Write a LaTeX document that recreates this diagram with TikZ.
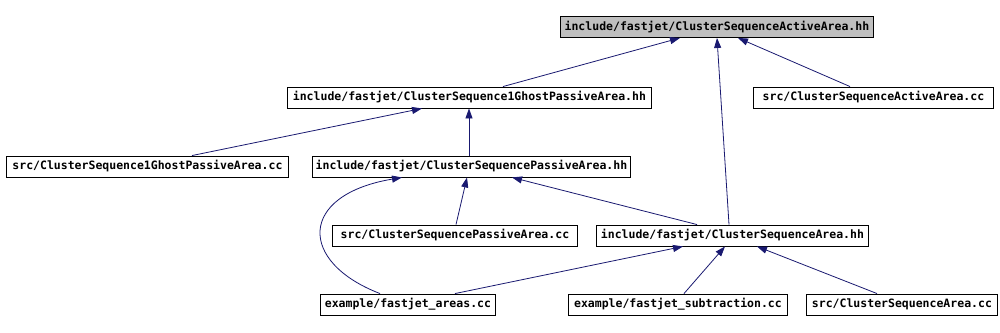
\documentclass[tikz,border=0pt]{standalone}
\usepackage{fontspec}
\setmonofont{DejaVu Sans Mono}
\usetikzlibrary{arrows.meta}
\definecolor{edgeblue}{RGB}{25,25,112}
\definecolor{rootgrey}{RGB}{191,191,191}

\begin{document}
\begin{tikzpicture}[
    x=1pt, y=-1pt,
    box/.style={
        draw=black,
        line width=0.9pt,
        fill=white,
        anchor=west,
        minimum height=21pt,
        inner xsep=0pt,
        inner ysep=0pt,
        font=\ttfamily\bfseries\fontsize{11.5pt}{12pt}\selectfont
    },
    dep/.style={
        -{Triangle[length=10pt,width=7pt]},
        draw=edgeblue,
        line width=0.8pt
    }
]
\useasboundingbox (0,0) rectangle (1000,332);

% ============================================================
% Headers
% ============================================================

\node[box, fill=rootgrey, minimum width=313pt] (active) at (560,27)
{include/fastjet/ClusterSequenceActiveArea.hh};

\node[box, minimum width=364pt] (ghost) at (287,97.5)
{include/fastjet/ClusterSequence1GhostPassiveArea.hh};

\node[box, minimum width=318pt] (passive) at (312,166.5)
{include/fastjet/ClusterSequencePassiveArea.hh};

\node[box, minimum width=272pt] (area) at (596,235.5)
{include/fastjet/ClusterSequenceArea.hh};


% ============================================================
% Sources
% ============================================================

\node[box, minimum width=240pt] (activecc) at (753,97.5)
{src/ClusterSequenceActiveArea.cc};

\node[box, minimum width=282pt] (ghostcc) at (6,166.5)
{src/ClusterSequence1GhostPassiveArea.cc};

\node[box, minimum width=245pt] (passivecc) at (332,235.5)
{src/ClusterSequencePassiveArea.cc};

\node[box, minimum width=175pt] (areas) at (320,304.5)
{example/fastjet\_areas.cc};

\node[box, minimum width=219pt] (subtr) at (568,304.5)
{example/fastjet\_subtraction.cc};

\node[box, minimum width=191pt] (areacc) at (806,304.5)
{src/ClusterSequenceArea.cc};


% ============================================================
% Includes
% ============================================================

\draw[dep] ([xshift=216pt]ghost.north west) -- ([xshift=120pt]active.south west);
\draw[dep] ([xshift=97pt]activecc.north west) -- ([xshift=178pt]active.south west);
\draw[dep] ([xshift=133pt]area.north west) -- ([xshift=157pt]active.south west);

\draw[dep] ([xshift=186pt]ghostcc.north west) -- ([xshift=135pt]ghost.south west);
\draw[dep] ([xshift=157pt]passive.north west) -- ([xshift=182pt]ghost.south west);

\draw[dep] ([xshift=124pt]passivecc.north west) -- ([xshift=155pt]passive.south west);
\draw[dep] ([xshift=101pt]area.north west) -- ([xshift=200pt]passive.south west);
\draw[dep] ([xshift=60pt]areas.north west)
    .. controls (298,262) and (298,195) .. ([xshift=90pt]passive.south west);

\draw[dep] ([xshift=135pt]areas.north west) -- ([xshift=87pt]area.south west);
\draw[dep] ([xshift=116pt]subtr.north west) -- ([xshift=129pt]area.south west);
\draw[dep] ([xshift=71pt]areacc.north west) -- ([xshift=161pt]area.south west);

\end{tikzpicture}
\end{document}
